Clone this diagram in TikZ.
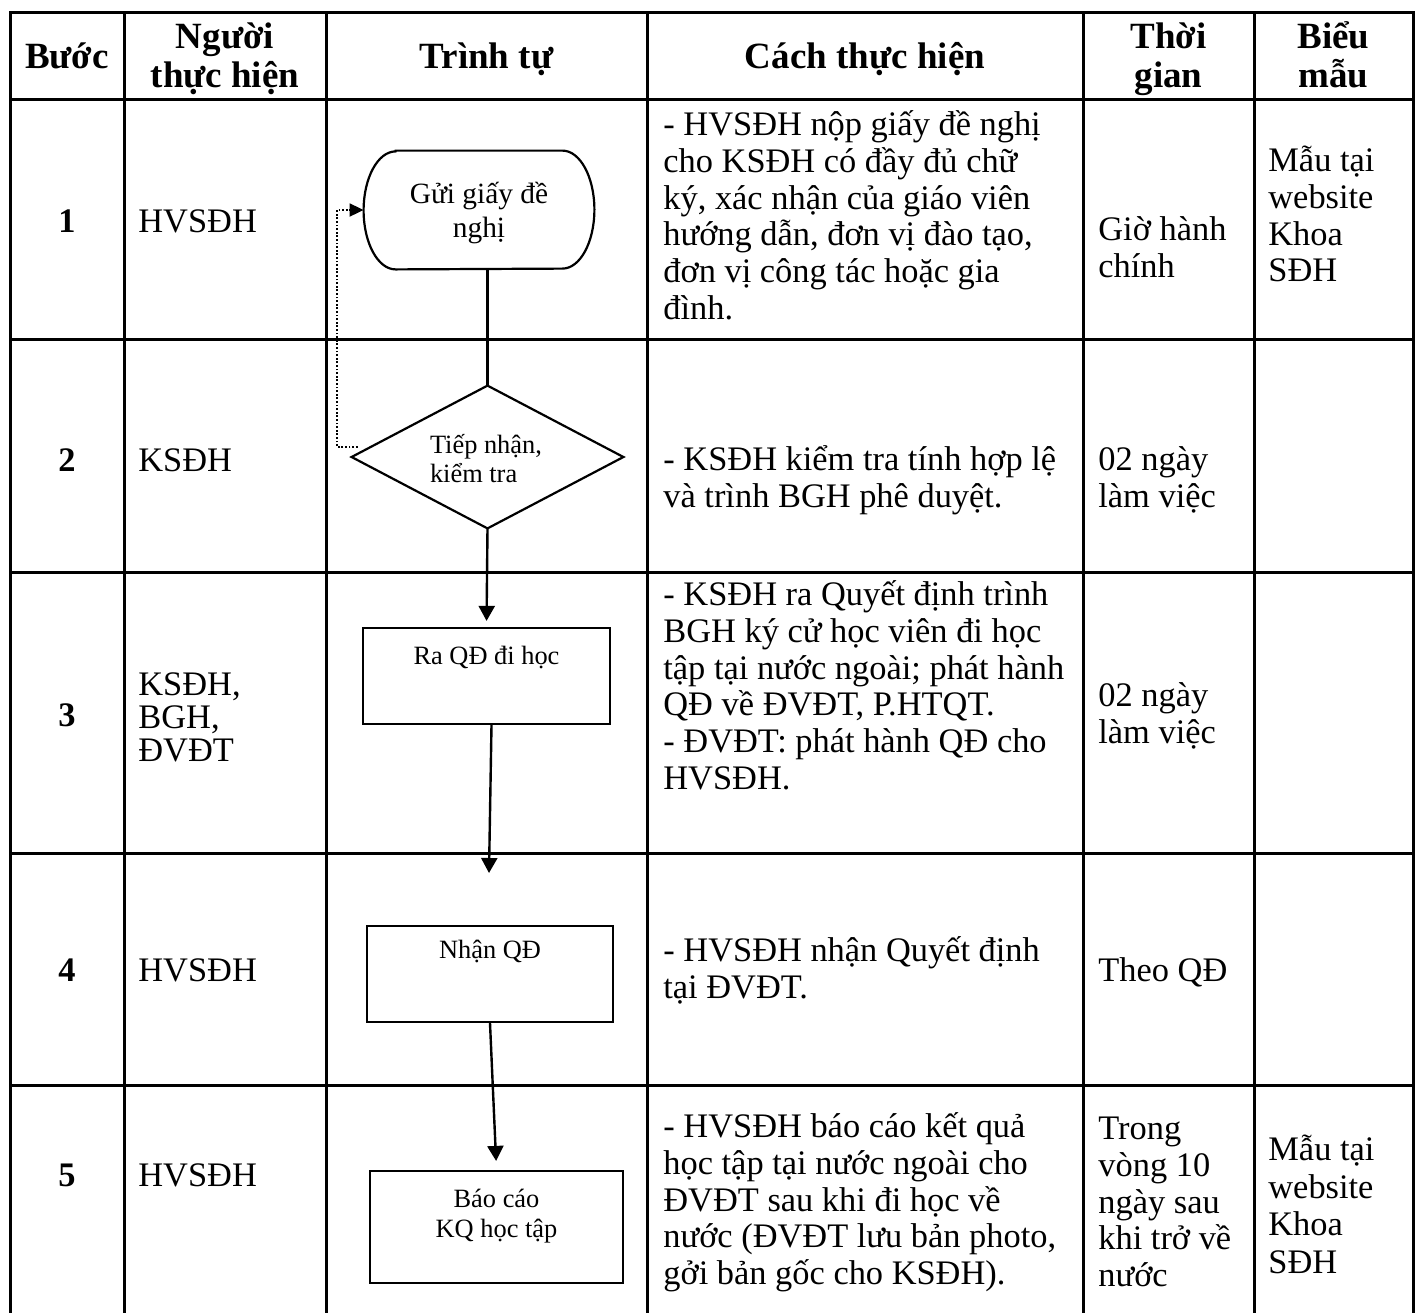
\documentclass[tikz,border=0pt]{standalone}
\usepackage{fontspec}
\setmainfont{Liberation Serif}
\usetikzlibrary{arrows.meta,calc}
\newcommand{\bodyfont}{\fontsize{17.2pt}{18.4pt}\selectfont}
\newcommand{\headfont}{\fontsize{18.5pt}{19.5pt}\selectfont\bfseries}
\newcommand{\flowfont}{\fontsize{13.2pt}{15pt}\selectfont}
\newcommand{\ctxt}[1]{\parbox[t]{260pt}{\raggedright\rule{0pt}{18pt}#1}}
\newcommand{\htxt}[2]{\parbox[t]{#1}{\centering\rule{0pt}{20pt}#2}}
\tikzset{
  grid/.style={line width=1.5pt, line cap=rect},
  cell/.style={anchor=north west, inner sep=0pt, font=\bodyfont},
  num/.style={anchor=base, inner sep=0pt, font=\bodyfont\bfseries},
  head/.style={anchor=north, inner sep=0pt, font=\headfont},
  shapeline/.style={line width=1.1pt},
  flowbox/.style={draw, line width=1.1pt, inner sep=0pt, font=\flowfont},
  arr/.style={line width=1.2pt, -{Triangle[length=7.5pt,width=8pt]}},
  link/.style={line width=1.2pt},
  dotarr/.style={line width=0.9pt, dash pattern=on 0.9pt off 0.9pt, -{Triangle[length=7pt,width=6.5pt]}}
}
\begin{document}
\begin{tikzpicture}[x=0.5pt,y=-0.5pt]
\useasboundingbox (0,0) rectangle (1415,1313);
\fill[white] (0,0) rectangle (1415,1313);

% table grid
\foreach \yy in {12,99,339,572,853,1085}{\draw[grid] (10,\yy) -- (1413,\yy);}
\foreach \xx in {10,124,326,647,1083,1254,1413}{\draw[grid] (\xx,12) -- (\xx,1313);}

% header
\node[head] (h1) at (67,28) {\htxt{57pt}{Bước}};
\node[head] (h2) at (225,8) {\htxt{100pt}{Người\\thực hiện}};
\node[head] (h3) at (486.5,28) {\htxt{160pt}{Trình tự}};
\node[head] (h4) at (865,28) {\htxt{215pt}{Cách thực hiện}};
\node[head] (h5) at (1168.5,8) {\htxt{85pt}{Thời\\gian}};
\node[head] (h6) at (1333.5,8) {\htxt{79pt}{Biểu\\mẫu}};

% row 1
\node[num] (n1) at (67,232) {1};
\node[cell] (p1) at (138,196) {\ctxt{HVSĐH}};
\node[cell] (c1) at (663,99) {\ctxt{- HVSĐH nộp giấy đề nghị\\cho KSĐH có đầy đủ chữ\\ký, xác nhận của giáo viên\\hướng dẫn, đơn vị đào tạo,\\đơn vị công tác hoặc gia\\đình.}};
\node[cell] (t1) at (1098,204) {\ctxt{Giờ hành\\chính}};
\node[cell] (m1) at (1268,135) {\ctxt{Mẫu tại\\website\\Khoa\\SĐH}};

% row 2
\node[num] (n2) at (67,471) {2};
\node[cell] (p2) at (138,435) {\ctxt{KSĐH}};
\node[cell] (c2) at (663,434) {\ctxt{- KSĐH kiểm tra tính hợp lệ\\và trình BGH phê duyệt.}};
\node[cell] (t2) at (1098,434) {\ctxt{02 ngày\\làm việc}};

% row 3
\node[num] (n3) at (67,726) {3};
\node[cell] (p3) at (138,659) {\ctxt{\setlength{\baselineskip}{16.5pt}KSĐH,\\BGH,\\ĐVĐT}};
\node[cell] (c3) at (663,569) {\ctxt{- KSĐH ra Quyết định trình\\BGH ký cử học viên đi học\\tập tại nước ngoài; phát hành\\QĐ về ĐVĐT, P.HTQT.\\- ĐVĐT: phát hành QĐ cho\\HVSĐH.}};
\node[cell] (t3) at (1098,670) {\ctxt{02 ngày\\làm việc}};

% row 4
\node[num] (n4) at (67,981) {4};
\node[cell] (p4) at (138,945) {\ctxt{HVSĐH}};
\node[cell] (c4) at (663,925) {\ctxt{- HVSĐH nhận Quyết định\\tại ĐVĐT.}};
\node[cell] (t4) at (1098,945) {\ctxt{Theo QĐ}};

% row 5
\node[num] (n5) at (67,1186) {5};
\node[cell] (p5) at (138,1150) {\ctxt{HVSĐH}};
\node[cell] (c5) at (663,1101) {\ctxt{- HVSĐH báo cáo kết quả\\học tập tại nước ngoài cho\\ĐVĐT sau khi đi học về\\nước (ĐVĐT lưu bản photo,\\gởi bản gốc cho KSĐH).}};
\node[cell] (t5) at (1098,1103) {\ctxt{Trong\\vòng 10\\ngày sau\\khi trở về\\nước}};
\node[cell] (m5) at (1268,1124) {\ctxt{\setlength{\baselineskip}{18.8pt}Mẫu tại\\website\\Khoa\\SĐH}};

% flowchart
\node[inner sep=0pt, font=\fontsize{14.7pt}{17pt}\selectfont] (st) at (479,210)
  {\parbox[c][59pt][t]{115pt}{\centering\rule{0pt}{26pt}Gửi giấy đề\\nghị}};
\draw[shapeline] ($(st.north west)+(32,0)$) -- ($(st.north east)+(-32,0)$)
  arc[start angle=90, end angle=-90, x radius=16pt, y radius=29.5pt]
  -- ($(st.south west)+(32,0)$)
  arc[start angle=270, end angle=90, x radius=16pt, y radius=29.5pt] -- cycle;

\node[inner sep=0pt, font=\flowfont] (dia) at (487.5,457)
  {\parbox[c][71pt][t]{135.5pt}{\raggedright\setlength{\baselineskip}{14.5pt}\hspace*{39pt}\rule{0pt}{33.5pt}Tiếp nhận,\\\hspace*{39pt}kiểm tra}};
\draw[shapeline] (dia.north) -- (dia.east) -- (dia.south) -- (dia.west) -- cycle;

\node[flowbox] (ra) at (486.5,676)
  {\parbox[c][48pt][t]{123.5pt}{\centering\rule{0pt}{18pt}Ra QĐ đi học}};
\node[flowbox] (nhan) at (490,974)
  {\parbox[c][48pt][t]{123pt}{\centering\rule{0pt}{16pt}Nhận QĐ}};
\node[flowbox] (bao) at (496.5,1227)
  {\parbox[c][56pt][t]{126.5pt}{\centering\rule{0pt}{18pt}Báo cáo\\KQ học tập}};

% connectors
\draw[link] (dia.north |- st.south) -- (dia.north);
\draw[arr, shorten >=3pt] (dia.south) -- (ra.north);
\coordinate (tipA) at (489,873);
\draw[arr] ([xshift=2.5pt]ra.south) -- (tipA);
\draw[arr, shorten >=4.5pt] (nhan.south) -- (bao.north);
\coordinate (dstart) at ($(dia.west)+(6,-10)$);
\coordinate (dturn) at (337,447);
\draw[dotarr] (dstart) -- (dturn) |- (st.west);
\end{tikzpicture}
\end{document}
